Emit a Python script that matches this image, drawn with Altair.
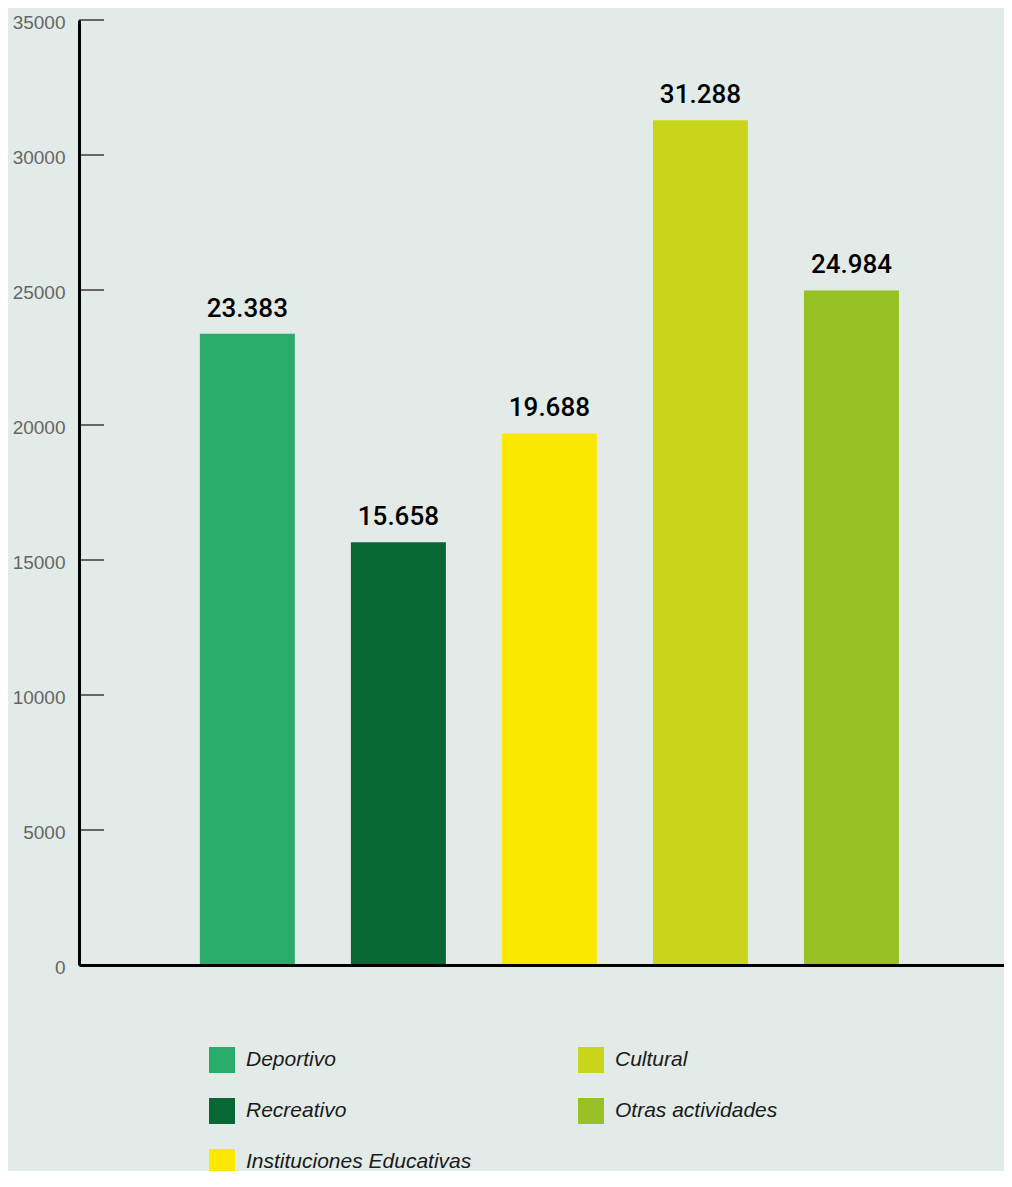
import altair as alt
import pandas as pd

categories = ["Deportivo", "Recreativo", "Instituciones Educativas", "Cultural", "Otras actividades"]
values = [23383, 15658, 19688, 31288, 24984]
colors = ["#29ab69", "#076735", "#fbe800", "#c8d51a", "#97c125"]
tick_values = [0, 5000, 10000, 15000, 20000, 25000, 30000, 35000]

labels = [f"{v:,}".replace(",", ".") for v in values]
df = pd.DataFrame({"cat": categories, "val": values, "label": labels})
ticks_df = pd.DataFrame({"v": tick_values})

FONT = "Liberation Sans"

yscale = alt.Scale(domain=[0, 35000], nice=False, zero=True)
xscale = alt.Scale(paddingInner=0.371, paddingOuter=0.748, align=0.535)

base = alt.Chart(df)

bars = base.mark_bar().encode(
    x=alt.X("cat:N", sort=categories, scale=xscale,
            axis=alt.Axis(labels=False, ticks=False, title=None, domainColor="#000000",
                          domainWidth=3, zindex=2)),
    y=alt.Y("val:Q", scale=yscale,
            axis=alt.Axis(values=tick_values, ticks=False, grid=False, title=None,
                          domainColor="#000000", domainWidth=3, zindex=2,
                          labelColor="#666666", labelFontSize=19, labelFont=FONT,
                          labelPadding=14, labelOffset=2, format="d")),
    color=alt.Color("cat:N",
                    scale=alt.Scale(domain=categories, range=colors),
                    legend=alt.Legend(title=None, orient="none", legendX=130, legendY=1027,
                                      columns=2, symbolType="square", symbolSize=676,
                                      symbolStrokeWidth=0, symbolOpacity=1,
                                      labelFontSize=21, labelFont=FONT, labelFontStyle="italic",
                                      labelColor="#1a1a1a", labelOffset=11,
                                      rowPadding=25, columnPadding=106, padding=0,
                                      labelLimit=400)),
)

text = base.mark_text(baseline="alphabetic", dy=-17, fontSize=26, font="Roboto",
                      fontWeight=500, color="#000000").encode(
    x=alt.X("cat:N", sort=categories, scale=xscale),
    y=alt.Y("val:Q", scale=yscale),
    text="label:N",
)

tick_rules = alt.Chart(ticks_df).mark_rule(color="#666666", strokeWidth=2).encode(
    y=alt.Y("v:Q", scale=yscale),
    x=alt.value(0),
    x2=alt.value(25),
)

chart = alt.layer(tick_rules, bars, text).properties(
    width=925, height=945,
    background="#e3ebe8",
    autosize=alt.AutoSizeParams(type="none"),
    padding={"left": 71, "top": 12, "right": 0, "bottom": 206},
).configure_view(stroke=None)

chart.save("out.html", embed_options={"renderer": "svg", "actions": False})
